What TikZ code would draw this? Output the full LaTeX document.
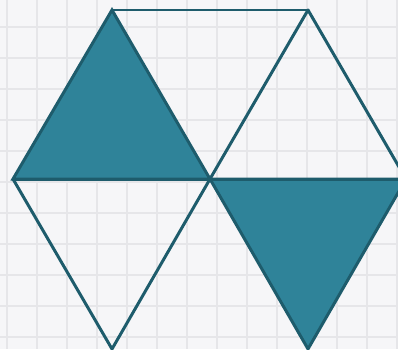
\documentclass[tikz,border=0pt]{standalone}
\usepackage{tikz}
\usetikzlibrary{calc}
\definecolor{tealfill}{RGB}{47,131,153}
\definecolor{tealedge}{RGB}{30,92,108}
\definecolor{paper}{RGB}{246,246,248}
\definecolor{gridline}{RGB}{230,230,233}

\begin{document}
\begin{tikzpicture}[x=0.02cm, y=-0.02cm,
  tri/.style={fill=tealfill, draw=tealedge, line width=1.7pt, line join=miter},
  edge/.style={draw=tealedge, line width=1.7pt, line cap=round},
  paperline/.style={draw=gridline, line width=0.9pt},
]
\useasboundingbox (0,0) rectangle (398,349);
\clip (0,0) rectangle (398,349);
% grid paper
\fill[paper] (0,0) rectangle (398,349);
\foreach \x in {7,37,...,397} \draw[paperline] (\x,0) -- (\x,349);
\foreach \y in {27,58,...,349} \draw[paperline] (0,\y) -- (398,\y);

% Vertices
\coordinate (tl) at (112,10);
\coordinate (tr) at (308,10);
\coordinate (l) at (13,179);
\coordinate (c) at (210,179);
\coordinate (r) at (406,179);
\coordinate (bl) at (112,349);
\coordinate (br) at (308,349);

% Shaded triangles
\draw[tri] (tl) -- (l) -- (c) -- cycle;
\draw[tri] (c) -- (r) -- (br) -- cycle;

% Edges
\draw[edge] (tl) -- (tr);
\draw[edge] (tr) -- (c);
\draw[edge] (tr) -- (r);
\draw[edge] (l) -- (r);
\draw[edge] (l) -- (bl);
\draw[edge] (c) -- (bl);
\end{tikzpicture}
\end{document}
